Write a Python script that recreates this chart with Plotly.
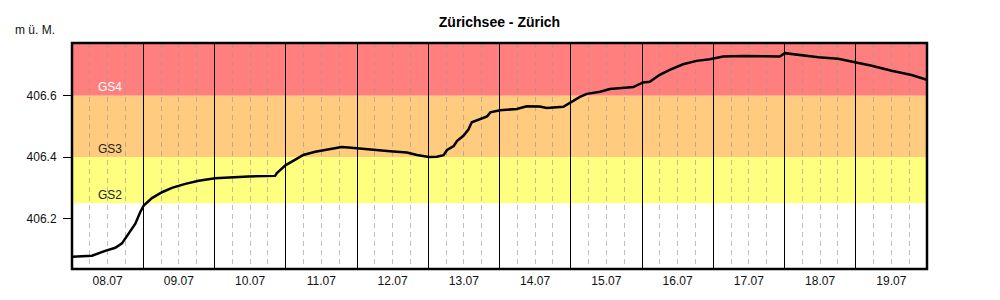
import plotly.graph_objects as go

# ---- data ----
times = [
    "2024-07-08 00:00", "2024-07-08 06:45", "2024-07-08 11:10", "2024-07-08 14:35",
    "2024-07-08 16:50", "2024-07-08 19:05", "2024-07-08 21:20", "2024-07-08 23:00",
    "2024-07-09 00:10", "2024-07-09 02:55", "2024-07-09 06:20", "2024-07-09 09:40",
    "2024-07-09 14:10", "2024-07-09 18:40", "2024-07-10 00:10", "2024-07-10 11:25",
    "2024-07-10 20:25", "2024-07-10 21:00", "2024-07-10 22:35", "2024-07-11 00:00",
    "2024-07-11 03:05", "2024-07-11 05:55", "2024-07-11 09:55", "2024-07-11 14:20",
    "2024-07-11 18:50", "2024-07-11 21:05", "2024-07-12 00:20", "2024-07-12 05:35",
    "2024-07-12 11:10", "2024-07-12 16:50", "2024-07-12 20:10", "2024-07-13 00:10",
    "2024-07-13 02:55", "2024-07-13 05:10", "2024-07-13 06:20", "2024-07-13 08:35",
    "2024-07-13 09:40", "2024-07-13 11:55", "2024-07-13 13:35", "2024-07-13 14:40",
    "2024-07-13 17:30", "2024-07-13 19:50", "2024-07-13 20:55", "2024-07-14 00:10",
    "2024-07-14 05:50", "2024-07-14 09:10", "2024-07-14 13:35", "2024-07-14 15:55",
    "2024-07-14 21:30", "2024-07-14 23:40", "2024-07-15 03:05", "2024-07-15 05:25",
    "2024-07-15 09:55", "2024-07-15 13:10", "2024-07-15 16:35", "2024-07-15 21:05",
    "2024-07-16 00:20", "2024-07-16 02:35", "2024-07-16 06:00", "2024-07-16 09:20",
    "2024-07-16 13:50", "2024-07-16 18:20", "2024-07-16 22:50", "2024-07-17 03:20",
    "2024-07-17 10:00", "2024-07-17 16:50", "2024-07-17 22:25", "2024-07-18 00:05",
    "2024-07-18 04:35", "2024-07-18 11:25", "2024-07-18 18:05", "2024-07-19 00:20",
    "2024-07-19 05:25", "2024-07-19 12:05", "2024-07-19 18:50", "2024-07-19 23:55",
]
levels = [
    406.077, 406.080, 406.096, 406.106,
    406.120, 406.152, 406.184, 406.222,
    406.243, 406.267, 406.286, 406.300,
    406.313, 406.323, 406.331, 406.337,
    406.339, 406.348, 406.363, 406.374,
    406.391, 406.407, 406.417, 406.425,
    406.433, 406.431, 406.428, 406.422,
    406.419, 406.415, 406.407, 406.400,
    406.401, 406.406, 406.423, 406.436,
    406.452, 406.470, 406.490, 406.513,
    406.522, 406.532, 406.545, 406.552,
    406.556, 406.565, 406.564, 406.559,
    406.563, 406.576, 406.595, 406.605,
    406.612, 406.621, 406.623, 406.627,
    406.642, 406.644, 406.667, 406.683,
    406.701, 406.712, 406.717, 406.726,
    406.728, 406.728, 406.726, 406.737,
    406.731, 406.724, 406.719, 406.707,
    406.696, 406.680, 406.666, 406.651,
]

band_names = ["GS2", "GS3", "GS4"]
band_lows = [406.25, 406.4, 406.6]
band_highs = [406.4, 406.6, 406.77]
band_colors = ["rgba(255,255,0,0.5)", "rgba(255,153,0,0.5)", "rgba(255,0,0,0.5)"]
band_label_colors = ["#222222", "#222222", "white"]

y_ticks = [406.2, 406.4, 406.6]
y_tick_labels = ["406.2", "406.4", "406.6"]

x_start = "2024-07-08 00:00"
x_end = "2024-07-20 00:00"
y_range = [406.037, 406.77]

FONT = "Arial, Liberation Sans, sans-serif"

fig = go.Figure()
fig.add_trace(go.Scatter(x=times, y=levels, mode="lines",
                         line=dict(color="black", width=2.5), hoverinfo="skip",
                         showlegend=False))

shapes = []
annotations = []
for name, lo, hi, col, lc in zip(band_names, band_lows, band_highs, band_colors, band_label_colors):
    shapes.append(dict(type="rect", xref="paper", yref="y", x0=0, x1=1, y0=lo, y1=hi,
                       fillcolor=col, line=dict(width=0), layer="between"))
    annotations.append(dict(x="2024-07-08 08:00", y=lo, xref="x", yref="y", text=name,
                            showarrow=False, xanchor="left", yanchor="bottom", yshift=-1,
                            font=dict(family=FONT, size=12, color=lc)))

# frame
shapes.append(dict(type="rect", xref="paper", yref="paper", x0=0, x1=1, y0=0, y1=1,
                   line=dict(color="black", width=2.5), layer="above"))

annotations.append(dict(x=-0.0427, y=1.057, xref="paper", yref="paper", text="m ü. M.",
                        showarrow=False, xanchor="center", yanchor="middle",
                        font=dict(family=FONT, size=12, color="#111111")))

fig.update_layout(
    width=1000, height=300,
    margin=dict(l=72, r=73, t=43, b=29),
    paper_bgcolor="white", plot_bgcolor="white",
    font=dict(family=FONT, size=12, color="#111111"),
    title=dict(text="<b>Zürichsee - Zürich</b>", x=0.4995, xanchor="center",
               y=0.925, yanchor="middle", yref="container",
               font=dict(family=FONT, size=14, color="black")),
    shapes=shapes, annotations=annotations,
    xaxis=dict(type="date", range=[x_start, x_end],
               tick0=x_start, dtick=86400000, ticklabelmode="period",
               tickformat="%d.%m", ticks="", showline=False, ticklabelstandoff=3,
               showgrid=True, gridcolor="black", gridwidth=1,
               minor=dict(tick0=x_start, dtick=6 * 3600 * 1000, showgrid=True,
                          gridcolor="rgba(150,150,150,0.6)", griddash="5px,4px",
                          gridwidth=1, ticks=""),
               zeroline=False, fixedrange=True),
    yaxis=dict(range=y_range, tickvals=y_ticks, ticktext=y_tick_labels,
               ticks="outside", ticklen=8, tickwidth=1, tickcolor="black",
               ticklabelstandoff=4,
               showgrid=False, zeroline=False, showline=False, fixedrange=True),
)

fig.write_html("out.html")
